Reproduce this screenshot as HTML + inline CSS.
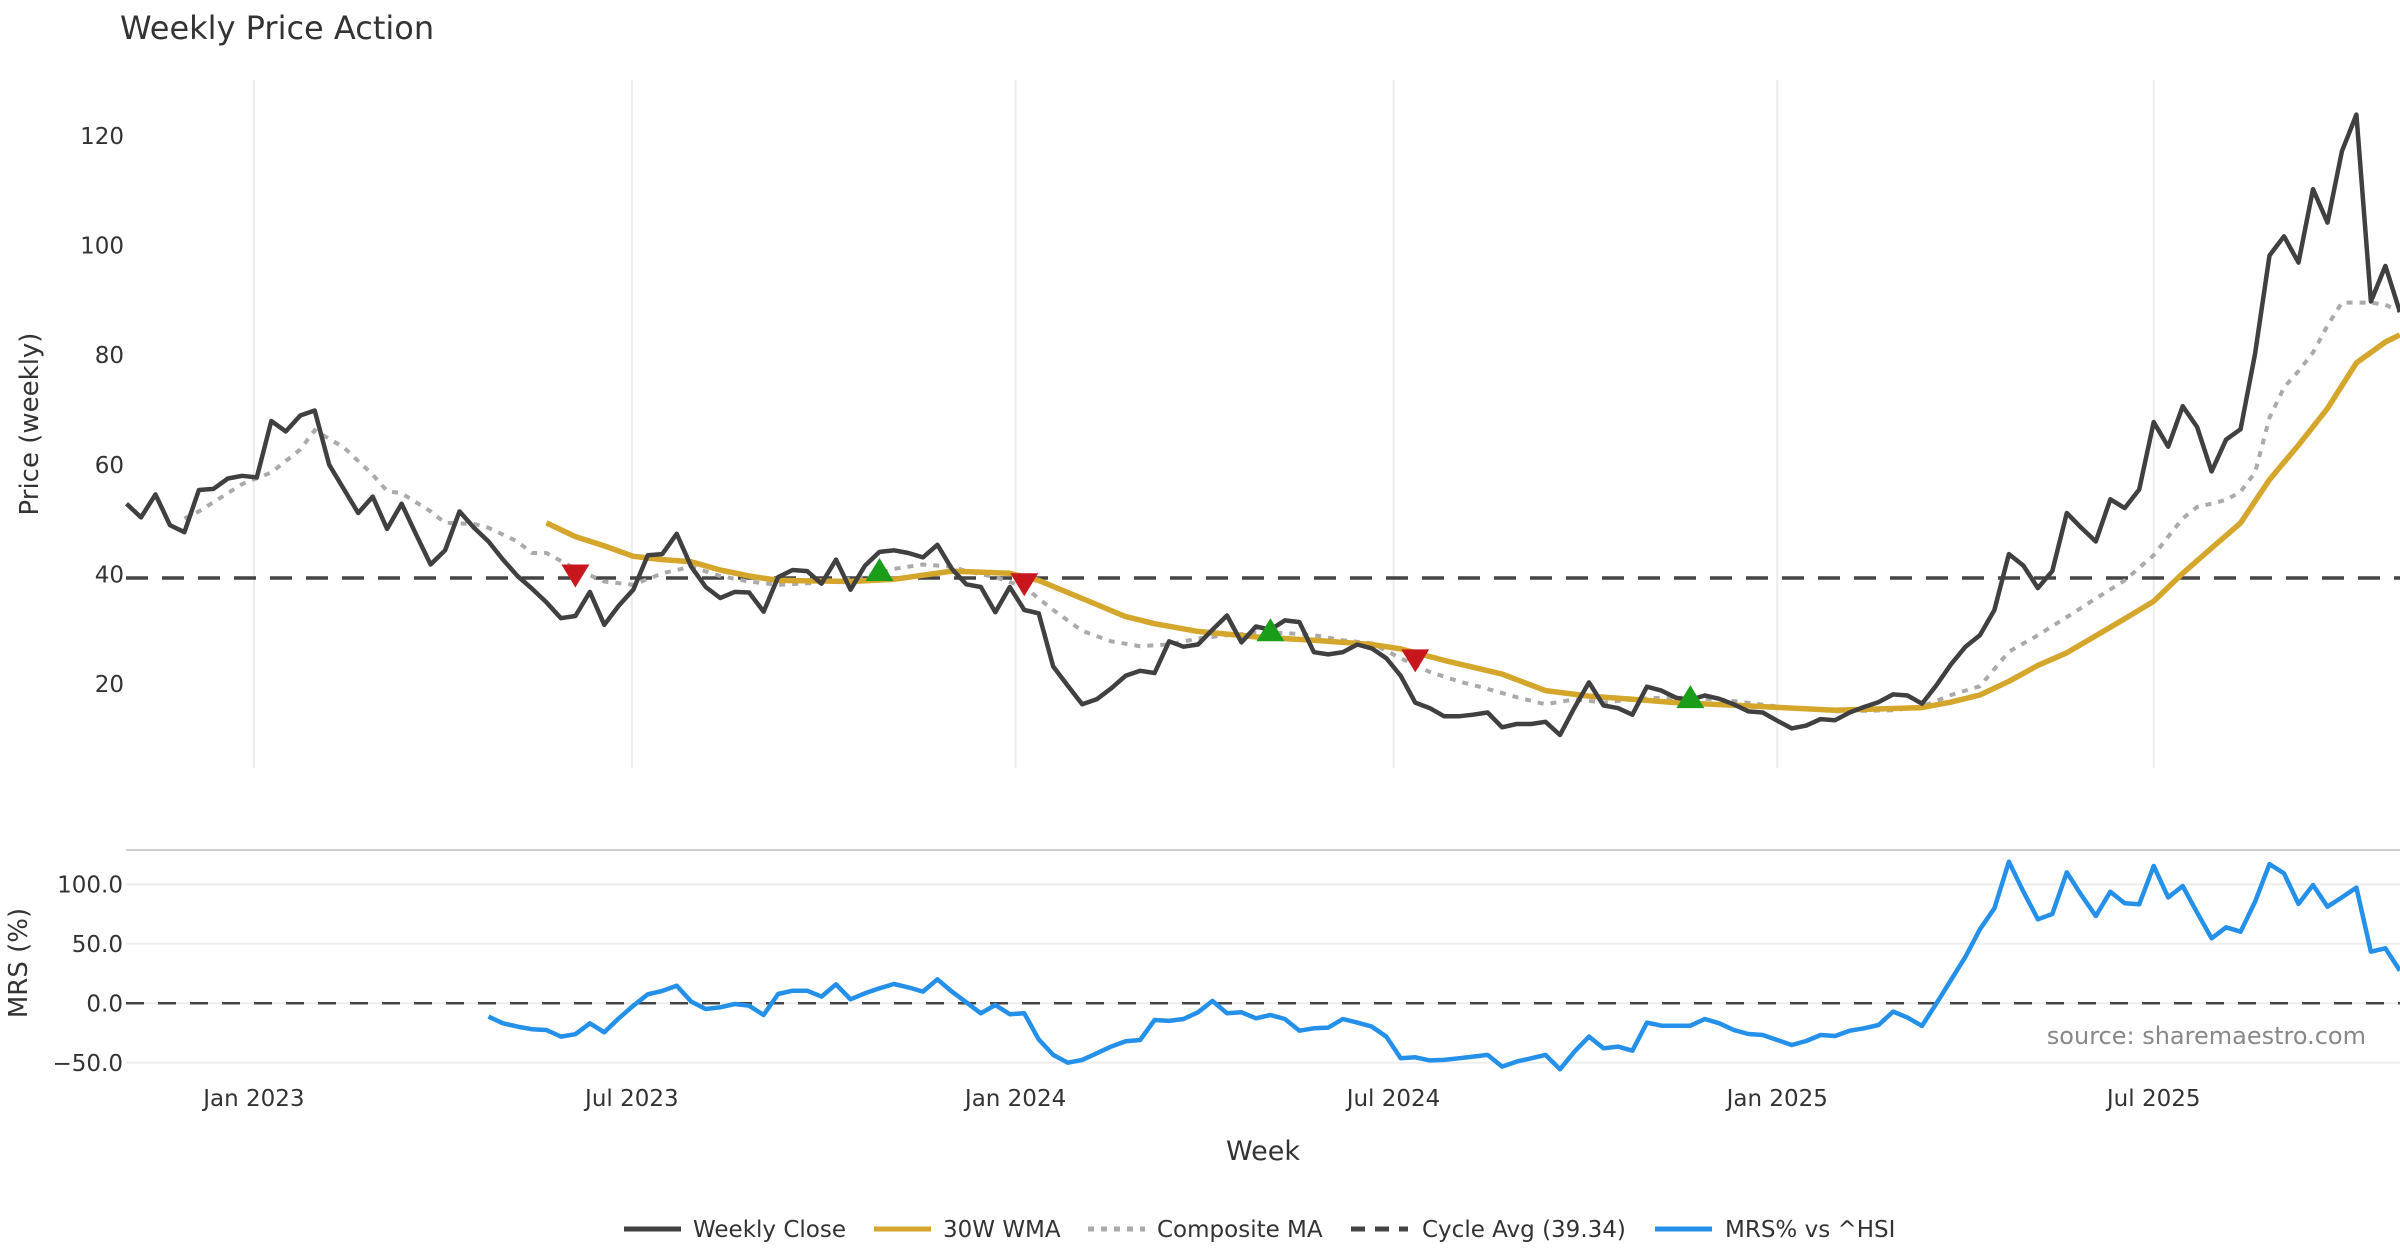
<!DOCTYPE html>
<html><head><meta charset="utf-8"><style>
html,body{margin:0;padding:0;background:#fff;}
svg{display:block;font-family:"DejaVu Sans","Liberation Sans",sans-serif;}
</style></head><body>
<svg id="chart" width="2400" height="1260" viewBox="0 0 2400 1260" xmlns="http://www.w3.org/2000/svg">
<text x="120" y="39" font-size="32" fill="#333">Weekly Price Action</text>
<text transform="translate(38,424) rotate(-90)" text-anchor="middle" font-size="26" fill="#333">Price (weekly)</text>
<text transform="translate(27,963) rotate(-90)" text-anchor="middle" font-size="26" fill="#333">MRS (%)</text>
<text x="1263" y="1160" text-anchor="middle" font-size="27" fill="#333">Week</text>
<text x="2366" y="1044" text-anchor="end" font-size="24" fill="#888">source: sharemaestro.com</text>
<g id="grid"></g><g id="marks"></g><g id="legend"></g>
</svg>
<script>
const closeVals=[52.9,50.4,54.6,49,47.7,55.4,55.6,57.5,58,57.7,68,66.1,69,69.9,60,55.6,51.2,54.2,48.3,52.9,47.3,41.8,44.4,51.5,48.5,46,42.7,39.7,37.4,34.9,32,32.4,36.8,30.8,34.3,37.2,43.5,43.7,47.4,41.4,37.7,35.7,36.8,36.7,33.2,39.5,40.8,40.6,38.3,42.7,37.2,41.6,44.1,44.4,43.9,43.1,45.4,41,38.2,37.7,33.1,37.7,33.5,32.9,23.2,19.7,16.3,17.2,19.2,21.5,22.4,22,27.8,26.8,27.2,29.9,32.5,27.6,30.5,29.9,31.6,31.3,25.8,25.4,25.8,27.2,26.5,24.7,21.5,16.6,15.6,14.1,14.1,14.4,14.8,12.1,12.7,12.7,13.1,10.7,15.7,20.3,16.1,15.6,14.4,19.5,18.8,17.5,17.1,17.9,17.3,16.3,15,14.8,13.3,11.9,12.4,13.6,13.4,14.8,15.8,16.7,18.1,17.9,16.4,19.8,23.6,26.8,28.9,33.5,43.7,41.6,37.5,40.6,51.2,48.5,46,53.7,52.1,55.5,67.8,63.3,70.7,66.9,58.8,64.6,66.5,80.3,98.2,101.7,96.9,110.3,104.2,117.2,123.9,89.8,96.3,87.9];
const wmaWeeks=[29,31,33,35,37,39,41,43,45,50,53,57,61,63,65,67,69,71,74,78,82,86,88,91,95,98,101,104,107,112,118,124,126,128,130,132,134,136,138,140,142,144,146,148,150,152,154,156,157];
const wmaVals=[49.4,46.9,45.2,43.3,42.7,42.3,40.8,39.7,38.9,38.7,39.1,40.6,40.2,38.9,36.7,34.5,32.3,31,29.6,28.6,28,27.2,26.4,24.3,21.8,18.8,17.8,17.2,16.6,16.0,15.2,15.7,16.7,18,20.5,23.4,25.7,28.8,31.9,35.1,40.2,44.8,49.4,57.3,63.6,70.3,78.6,82.4,83.7];
const compWeeks=[4,5,8,10,12,13,15,17,18,19,21,22,24,25,27,28,29,31,33,35,37,39,41,43,45,48,51,53,55,57,58,60,62,64,66,68,70,72,74,76,78,80,82,84,86,88,90,92,94,96,98,100,102,104,106,110,114,118,122,124,126,128,130,132,134,136,138,139,140,141,142,143,144,145,146,147,148,149,150,151,152,153,154,155,156,157];
const compVals=[50.2,51.5,56.5,58.6,62.8,66.3,63.2,58.2,55.2,54.8,51.5,49.4,49.2,48.5,46,43.9,43.9,41,38.7,38.1,40.2,41.4,39.7,38.7,38.1,38.5,39.5,41,41.8,41.4,40.6,39.5,37.7,33.5,29.7,27.8,26.9,27.2,28.3,28.9,29.3,29.3,28.9,28,27.4,24.7,22.2,20.5,19.1,17.6,16.3,17.2,16.6,17.2,17.5,17.2,15.9,15,15.2,15.9,18,19.6,25.9,28.9,32.2,35.6,38.9,41.2,43.5,46.9,50.2,52.3,52.9,53.6,55.1,58.6,68.6,74.1,77.1,80.5,85.4,89.6,89.6,89.6,89.2,88];
const mrsStart=25;
const mrsVals=[-11.2,-16.8,-19.6,-21.8,-22.4,-28,-26,-16.8,-24.4,-12.6,-2,7.6,10.4,14.8,1.4,-4.8,-3.4,-0.6,-2,-9.8,7.8,10.6,10.6,5.6,16,3.4,8.4,12.6,16.2,13.4,9.8,20.2,9.8,0.8,-8.4,-1.4,-9.2,-8.4,-30.3,-43.4,-49.9,-47.6,-42,-36.4,-31.9,-30.8,-14,-14.8,-13.2,-7.6,2,-8.4,-7.6,-12.6,-9.8,-13.2,-23,-21,-20.4,-13.2,-16.2,-19.6,-28,-46.2,-45.4,-48,-47.6,-46.2,-44.8,-43.4,-53.2,-49,-46.2,-43.4,-55.5,-40.6,-28,-37.8,-36.4,-39.8,-16.2,-18.8,-18.8,-18.8,-13.2,-16.8,-22.4,-25.8,-26.6,-30.8,-35,-31.7,-26.6,-27.5,-23,-21,-18.2,-7,-12,-19,0,19.6,39.2,62.2,79.8,119,93.8,70.6,75,110,91,73.4,93.8,84,83.2,115.4,89,98.6,76.2,54.6,63.9,60.2,85.4,117,109.2,83.5,99.4,81.2,89,97.2,43.4,46.2,27.5];
const sellWeeks=[31,62,89];
const sellVals=[39.8,38.2,24.3];
const buyWeeks=[52,79,108];
const buyVals=[40.8,29.8,17.6];
const cycleAvg=39.34;
const priceTicks=[20,40,60,80,100,120];
const mrsTicks=[100,50,0,-50];
const mrsTickLabels=["100.0","50.0","0.0","\u221250.0"];
const monthWeeks=[8.8,34.9,61.4,87.5,114,140];
const monthLabels=["Jan 2023","Jul 2023","Jan 2024","Jul 2024","Jan 2025","Jul 2025"];

const NS="http://www.w3.org/2000/svg";
const X0=126.5,DX=14.48;
const xs=i=>X0+i*DX;
const yp=v=>684-(v-20)*5.48;
const ym=v=>1003.3-v*1.19;
const grid=document.getElementById('grid'),marks=document.getElementById('marks'),leg=document.getElementById('legend');
function mk(tag,attrs,parent){const e=document.createElementNS(NS,tag);for(const k in attrs)e.setAttribute(k,attrs[k]);parent.appendChild(e);return e;}
function path(ws,vs,yf){return ws.map((w,k)=>(k?'L':'M')+xs(w).toFixed(1)+','+yf(vs[k]).toFixed(1)).join('');}

monthWeeks.forEach((w,k)=>{
  const g=mk('line',{x1:xs(w),x2:xs(w),y1:80,y2:768,stroke:'#ececec','stroke-width':2},grid);
  
  
  const t=mk('text',{x:xs(w),y:1106,'text-anchor':'middle','font-size':23,fill:'#333'},grid);
  t.textContent=monthLabels[k];
  
  
});
priceTicks.forEach(v=>{
  const t=mk('text',{x:124,y:yp(v)+8,'text-anchor':'end','font-size':23,fill:'#333'},grid);
  t.textContent=v;
  
  
});
const sep=mk('line',{x1:126,x2:2400,y1:850,y2:850,stroke:'#cfcfcf','stroke-width':2},grid);


mrsTicks.forEach((v,k)=>{
  const l=mk('line',{x1:126,x2:2400,y1:ym(v),y2:ym(v),stroke:'#ededed','stroke-width':2},grid);
  
  
  const t=mk('text',{x:123,y:ym(v)+8,'text-anchor':'end','font-size':23,fill:'#333'},grid);
  t.textContent=mrsTickLabels[k];
  
  
});

const cyc=mk('line',{x1:126,x2:2400,y1:yp(cycleAvg),y2:yp(cycleAvg),stroke:'#444','stroke-width':3.5,'stroke-dasharray':'22,14'},marks);


const comp=mk('path',{d:path(compWeeks,compVals,yp),fill:'none',stroke:'#aaa','stroke-width':4,'stroke-dasharray':'6,7'},marks);


const wma=mk('path',{d:path(wmaWeeks,wmaVals,yp),fill:'none',stroke:'#D4A72C','stroke-width':5.5,'stroke-linejoin':'round'},marks);


const cw=closeVals.map((v,i)=>i);
const cl=mk('path',{d:path(cw,closeVals,yp),fill:'none',stroke:'#404040','stroke-width':4.5,'stroke-linejoin':'round'},marks);


sellWeeks.forEach((w,k)=>{
  const x=xs(w),y=yp(sellVals[k]);
  const p=mk('path',{d:`M${x-14},${y-11}L${x+14},${y-11}L${x},${y+12}Z`,fill:'#C8161D'},marks);
  
  
});
buyWeeks.forEach((w,k)=>{
  const x=xs(w),y=yp(buyVals[k]);
  const p=mk('path',{d:`M${x-14},${y+11}L${x+14},${y+11}L${x},${y-12}Z`,fill:'#1A9E1A'},marks);
  
  
});
const z=mk('line',{x1:126,x2:2400,y1:ym(0),y2:ym(0),stroke:'#444','stroke-width':2.5,'stroke-dasharray':'18,14'},marks);


const mw=mrsVals.map((v,i)=>i+mrsStart);
const mr=mk('path',{d:path(mw,mrsVals,ym),fill:'none',stroke:'#2490EA','stroke-width':4.5,'stroke-linejoin':'round'},marks);



const legItems=[["Weekly Close",624,693,'#404040',''],["30W WMA",874,943,'#D4A72C',''],["Composite MA",1088,1157,'#aaa','6,7'],["Cycle Avg (39.34)",1351,1422,'#444','14,10'],["MRS% vs ^HSI",1655,1725,'#2490EA','']];
legItems.forEach(it=>{
  const l=mk('line',{x1:it[1],x2:it[1]+57,y1:1229,y2:1229,stroke:it[3],'stroke-width':5},leg);
  if(it[4])l.setAttribute('stroke-dasharray',it[4]);
  
  
  const t=mk('text',{x:it[2],y:1237,'font-size':23,fill:'#333'},leg);
  t.textContent=it[0];
  
  
});
</script>
</body></html>
